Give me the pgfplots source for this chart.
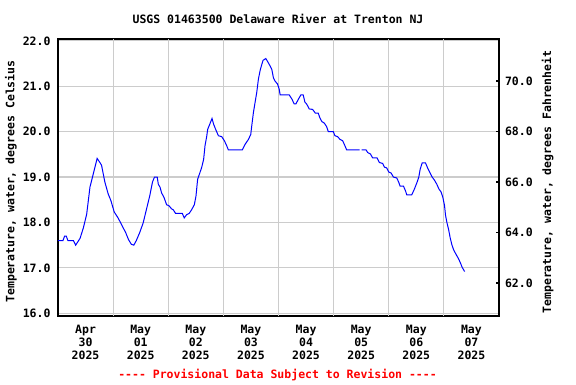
\documentclass[border=0pt]{standalone}
\usepackage{fontspec}
\setmainfont{DejaVu Sans Mono}[Ligatures=TeXOff]
\usepackage{pgfplots}
\pgfplotsset{compat=1.18}
\newcommand{\f}{\fontsize{11.5}{13}\selectfont\bfseries}
\definecolor{gridgray}{RGB}{204,204,204}
\begin{document}
\begin{tikzpicture}[x=1pt,y=1pt]
\path[use as bounding box] (-58pt,-68pt) rectangle (518pt,316pt);
\begin{axis}[
  scale only axis, width=441pt, height=277pt,
  xmin=0, xmax=8, ymin=15.94, ymax=22.04,
  xtick={0.5,1.5,...,7.5},
  xticklabels={Apr\\30\\2025, May\\01\\2025, May\\02\\2025, May\\03\\2025, May\\04\\2025, May\\05\\2025, May\\06\\2025, May\\07\\2025},
  x tick label style={align=center, font=\f, yshift=-6pt},
  extra x ticks={1,2,3,4,5,6,7},
  extra x tick labels={},
  extra x tick style={grid=major},
  ytick={16,17,18,19,20,21,22},
  yticklabels={16.0,17.0,18.0,19.0,20.0,21.0,22.0},
  y tick label style={font=\f, xshift=-4pt},
  ymajorgrids,
  major grid style={gridgray, line width=1.2pt},
  major tick length=0pt,
  axis line style={black, line width=1.5pt},
  unbounded coords=jump,
  clip=true,
]
\addplot[blue, line width=1pt] coordinates {
(0.00,17.6) (0.09,17.6) (0.12,17.7) (0.15,17.7) (0.18,17.6) (0.28,17.6) (0.32,17.5)
(0.40,17.65) (0.46,17.88) (0.52,18.18) (0.58,18.78) (0.64,19.07) (0.71,19.41)
(0.76,19.32) (0.79,19.26) (0.85,18.89) (0.91,18.63) (0.96,18.48) (1.02,18.23)
(1.09,18.10) (1.15,17.96) (1.23,17.77) (1.28,17.62) (1.33,17.52) (1.375,17.5)
(1.42,17.6) (1.48,17.77) (1.545,17.99) (1.605,18.29) (1.665,18.59) (1.714,18.89)
(1.75,19.0) (1.80,19.0) (1.82,18.84) (1.85,18.78) (1.88,18.65) (1.927,18.54)
(1.97,18.39) (2.012,18.37) (2.06,18.30) (2.09,18.28) (2.133,18.2) (2.255,18.2)
(2.29,18.1) (2.333,18.17) (2.38,18.2) (2.424,18.28) (2.473,18.39) (2.503,18.58)
(2.533,18.95) (2.564,19.06) (2.606,19.21) (2.642,19.39) (2.667,19.69) (2.697,19.89)
(2.715,20.05) (2.752,20.16) (2.794,20.29) (2.824,20.16) (2.86,20.05) (2.91,19.91)
(2.97,19.89) (3.018,19.80) (3.06,19.69) (3.09,19.6) (3.345,19.6) (3.394,19.72)
(3.455,19.83) (3.497,19.94) (3.515,20.13) (3.545,20.42) (3.576,20.65) (3.606,20.87)
(3.636,21.16) (3.667,21.35) (3.697,21.48) (3.72,21.57) (3.77,21.61) (3.80,21.55)
(3.842,21.46) (3.879,21.37) (3.909,21.18) (3.94,21.11) (3.982,21.05) (4.012,20.94)
(4.03,20.81) (4.194,20.81) (4.242,20.72) (4.285,20.61) (4.315,20.61) (4.364,20.72)
(4.406,20.81) (4.448,20.81) (4.479,20.65) (4.51,20.61) (4.558,20.50) (4.618,20.49)
(4.667,20.41) (4.72,20.41) (4.752,20.30) (4.788,20.22) (4.83,20.19) (4.873,20.11)
(4.903,20.0) (4.994,20.0) (5.024,19.91) (5.073,19.89) (5.115,19.83) (5.164,19.80)
(5.194,19.72) (5.236,19.6) (5.47,19.6) (5.49,nan)
(5.51,19.6) (5.588,19.6) (5.618,19.54) (5.667,19.51) (5.709,19.42) (5.788,19.42)
(5.83,19.32) (5.89,19.30) (5.92,19.22) (5.964,19.20) (6.0,19.11) (6.042,19.09)
(6.085,19.0) (6.145,18.98) (6.18,18.89) (6.206,18.80) (6.267,18.80) (6.303,18.70)
(6.327,18.61) (6.418,18.61) (6.467,18.74) (6.515,18.89) (6.545,19.0) (6.57,19.17)
(6.606,19.31) (6.667,19.31) (6.709,19.19) (6.75,19.09) (6.788,19.0) (6.83,18.93)
(6.873,18.84) (6.909,18.74) (6.95,18.67) (6.982,18.55) (7.012,18.37) (7.03,18.16)
(7.055,18.0) (7.085,17.85) (7.115,17.66) (7.145,17.51) (7.176,17.40) (7.224,17.29)
(7.267,17.20) (7.303,17.10) (7.333,17.01) (7.376,16.92)
};
\end{axis}
\begin{axis}[
  scale only axis, width=441pt, height=277pt,
  xmin=0, xmax=8, ymin=60.69, ymax=71.67,
  axis x line=none, axis y line*=right,
  ytick={62,64,66,68,70},
  yticklabels={62.0,64.0,66.0,68.0,70.0},
  y tick label style={font=\f, xshift=2.5pt},
  ytick align=inside,
  major tick length=3pt,
  tick style={black, line width=1.3pt},
  axis line style={black, line width=1.5pt},
]
\end{axis}
\node[font=\f] at (220pt,297pt) {USGS 01463500 Delaware River at Trenton NJ};
\node[font=\f, rotate=90] at (-47pt,134.5pt) {Temperature, water, degrees Celsius};
\node[font=\f, rotate=90] at (489.7pt,134pt) {Temperature, water, degrees Fahrenheit};
\node[font=\f, text=red] at (219.5pt,-59pt) {{-}{-}{-}{-} Provisional Data Subject to Revision {-}{-}{-}{-}};
\end{tikzpicture}
\end{document}
